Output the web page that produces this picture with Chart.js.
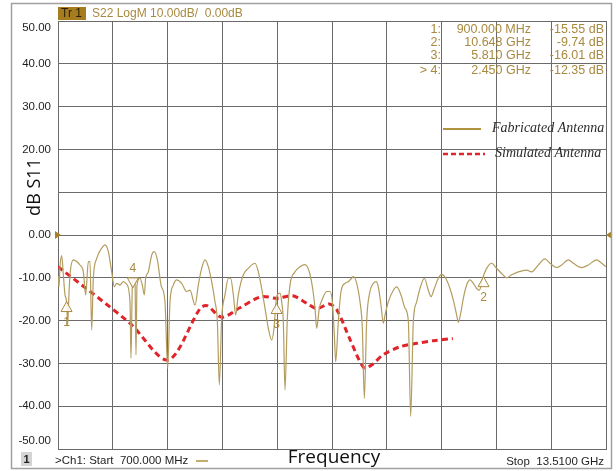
<!DOCTYPE html>
<html>
<head>
<meta charset="utf-8">
<script src="https://cdn.jsdelivr.net/npm/chart.js@4.4.1/dist/chart.umd.min.js"></script>
<style>
  html, body { margin: 0; padding: 0; background: #fff; }
  canvas { display: block; }
</style>
</head>
<body>
<canvas id="s11Chart" width="616" height="471"></canvas>
<script>
// measured trace (GHz, dB)
const fabFreq = [
  0.700, 0.708, 0.723, 0.747, 0.786, 0.825, 0.864, 0.900, 0.926, 0.949, 0.981,
  1.058, 1.136, 1.214, 1.292, 1.347, 1.409, 1.448, 1.487, 1.526, 1.604,
  1.721, 1.799, 1.877, 1.955, 2.017, 2.071, 2.149, 2.227, 2.305, 2.383,
  2.406, 2.438, 2.469, 2.500, 2.523, 2.547, 2.617, 2.671, 2.718, 2.749,
  2.812, 2.890, 2.952, 3.030, 3.108, 3.201, 3.264, 3.318, 3.396, 3.474,
  3.591, 3.708, 3.786, 3.903, 3.980, 4.058, 4.136, 4.214, 4.292, 4.370,
  4.425, 4.471, 4.526, 4.604, 4.682, 4.736, 4.799, 4.853, 4.915, 5.032,
  5.149, 5.305, 5.383, 5.461, 5.539, 5.617, 5.695, 5.749, 5.796, 5.827,
  5.889, 5.928, 5.967, 6.006, 6.061, 6.123, 6.240, 6.357, 6.474, 6.575,
  6.653, 6.708, 6.747, 6.809, 6.887, 6.980, 7.058, 7.113, 7.160, 7.191,
  7.253, 7.315, 7.409, 7.487, 7.565, 7.604, 7.682, 7.760, 7.814, 7.861,
  7.915, 7.993, 8.071, 8.134, 8.188, 8.250, 8.305, 8.344, 8.422, 8.539,
  8.617, 8.718, 8.812, 8.890, 8.944, 9.006, 9.084, 9.162, 9.264, 9.357,
  9.419, 9.497, 9.591, 9.669, 9.762, 9.863, 9.941, 10.019, 10.058, 10.121,
  10.175, 10.253, 10.331, 10.409, 10.487, 10.549, 10.627, 10.721, 10.838, 10.954,
  11.071, 11.188, 11.305, 11.461, 11.656, 11.772, 11.928, 12.084, 12.201, 12.357,
  12.474, 12.630, 12.746, 12.941, 13.097, 13.292, 13.409, 13.510
]
const fabDb = [
  -9.5, -10.1, -12.1, -7.4, -4.8, -9.3, -14.0, -15.6, -21.0, -15.6, -9.3,
  -5.8, -6.2, -7.0, -8.6, -14.0, -6.2, -6.2, -22.2, -10.1, -5.5,
  -3.1, -2.3, -3.9, -8.6, -12.1, -11.3, -11.7, -10.9, -11.5, -15.6,
  -28.8, -11.7, -10.1, -10.9, -28.0, -11.7, -10.1, -11.7, -14.0, -10.1,
  -8.6, -4.7, -3.9, -6.2, -11.7, -15.6, -31.2, -15.6, -11.7, -10.5,
  -11.3, -13.2, -12.9, -16.4, -11.7, -7.8, -5.8, -7.4, -10.9, -15.6,
  -20.2, -35.0, -19.5, -14.0, -10.1, -10.1, -14.0, -18.7, -14.0, -9.3,
  -7.8, -6.6, -8.6, -12.5, -17.1, -21.8, -24.5, -21.8, -15.6, -14.0,
  -13.6, -15.6, -20.2, -36.2, -19.5, -11.7, -8.6, -7.4, -6.9, -8.6,
  -12.5, -17.1, -21.8, -17.1, -14.8, -13.2, -13.2, -15.6, -23.4, -29.6,
  -20.2, -13.2, -11.3, -10.9, -10.1, -9.7, -11.3, -15.6, -21.8, -38.2,
  -20.2, -13.2, -11.3, -10.9, -12.1, -16.4, -20.6, -18.7, -15.6, -12.9,
  -12.1, -14.0, -17.1, -20.2, -42.4, -20.2, -15.6, -12.5, -10.1, -12.9,
  -14.4, -12.5, -10.1, -9.2, -10.1, -12.5, -15.2, -18.7, -20.4, -17.9,
  -14.8, -11.7, -10.5, -11.3, -12.5, -12.9, -10.1, -7.8, -6.6, -7.8,
  -9.0, -10.0, -9.3, -8.6, -8.2, -8.6, -7.0, -5.6, -6.6, -7.6,
  -7.0, -5.8, -6.6, -7.6, -7.0, -5.8, -6.6, -7.4
]

// simulated curve (GHz, dB)
const simFreq = [0.70, 2.38, 3.27, 4.02, 4.18, 4.53, 4.95, 5.45, 5.82, 6.19, 6.52,
  6.75, 7.04, 7.22, 7.53, 7.85, 8.04, 8.30, 8.70, 9.09, 9.47, 9.93]
const simDb = [-7.4, -20.6, -29.2, -17.2, -16.5, -19.2, -17.0, -14.4, -14.8, -14.2, -16.0,
  -17.2, -16.1, -17.5, -24.5, -31.0, -30.3, -28.0, -26.1, -25.3, -24.7, -24.2]

// markers
const markerNo = ['1', '2', '3', '4']
const markerFreq = [0.9, 10.648, 5.81, 2.45]
const markerDb = [-15.55, -9.74, -16.01, -12.35]
const markerFreqText = ['900.000 MHz', '10.648 GHz', '5.810 GHz', '2.450 GHz']
const markerDbText = ['-15.55 dB', '-9.74 dB', '-16.01 dB', '-12.35 dB']
const activeMarker = '4'

// axes
const xStart = 0.7
const xStop = 13.51
const xGridLines = [0.7, 1.981, 3.262, 4.543, 5.824, 7.105, 8.386, 9.667, 10.948, 12.229, 13.51]
const yTicks = [50, 40, 30, 20, 10, 0, -10, -20, -30, -40, -50]
const yTickLabels = ['50.00', '40.00', '30.00', '20.00', '', '0.00', '-10.00', '-20.00', '-30.00', '-40.00', '-50.00']

const GOLD = '#a8893f'
const TRACE = '#b39c5e'
const SANS = '"Liberation Sans", Arial, sans-serif'

const toPoints = (xs, ys) => xs.map((x, i) => ({ x: x, y: ys[i] }))

const overlay = {
  id: 'overlay',
  afterDatasetsDraw(chart) {
    const ctx = chart.ctx
    const xs = chart.scales.x
    const ys = chart.scales.y
    ctx.save()
    ctx.strokeStyle = GOLD
    ctx.lineWidth = 1
    ctx.font = '12px ' + SANS
    ctx.textAlign = 'center'
    ctx.textBaseline = 'middle'
    markerNo.forEach((n, i) => {
      const px = xs.getPixelForValue(markerFreq[i])
      const py = ys.getPixelForValue(markerDb[i])
      const dir = n === activeMarker ? -1 : 1
      ctx.beginPath()
      ctx.moveTo(px, py)
      ctx.lineTo(px - 5.5, py + dir * 10)
      ctx.lineTo(px + 5.5, py + dir * 10)
      ctx.closePath()
      ctx.fillStyle = 'rgba(255,255,255,0.85)'
      ctx.fill()
      ctx.stroke()
      ctx.fillStyle = GOLD
      ctx.fillText(n, px, n === activeMarker ? py - 19 : py + 21)
    })

    // reference level arrows at 0 dB
    const y0 = ys.getPixelForValue(0)
    ctx.fillStyle = '#a9801f'
    ctx.beginPath()
    ctx.moveTo(chart.chartArea.left - 3, y0 - 4)
    ctx.lineTo(chart.chartArea.left + 3, y0)
    ctx.lineTo(chart.chartArea.left - 3, y0 + 4)
    ctx.fill()
    ctx.beginPath()
    ctx.moveTo(chart.chartArea.right + 6, y0 - 4)
    ctx.lineTo(chart.chartArea.right, y0)
    ctx.lineTo(chart.chartArea.right + 6, y0 + 4)
    ctx.fill()
    ctx.restore()
  },
  afterDraw(chart) {
    const ctx = chart.ctx
    const area = chart.chartArea
    const ys = chart.scales.y
    ctx.save()

    // outer frame
    ctx.strokeStyle = '#a0a0a0'
    ctx.lineWidth = 1.5
    ctx.strokeRect(11.5, 3.5, 600, 465)

    // y tick labels
    ctx.fillStyle = '#1e1e1e'
    ctx.font = '11.5px ' + SANS
    ctx.textAlign = 'right'
    ctx.textBaseline = 'middle'
    yTicks.forEach((v, i) => {
      let py = ys.getPixelForValue(v)
      py = Math.min(Math.max(py, area.top + 7), area.bottom - 8)
      ctx.fillText(yTickLabels[i], 51, py)
    })

    // y axis title
    ctx.save()
    ctx.translate(35, 187)
    ctx.rotate(-Math.PI / 2)
    ctx.textAlign = 'center'
    ctx.font = '18px "Open Sans", sans-serif'
    ctx.fillStyle = '#111'
    ctx.fillText('dB S11', 0, 0)
    ctx.restore()

    // header
    ctx.fillStyle = '#a57c1e'
    ctx.fillRect(58, 7, 28, 13)
    ctx.fillStyle = '#2a2108'
    ctx.font = '12px ' + SANS
    ctx.textAlign = 'left'
    ctx.fillText('Tr 1', 61, 14)
    ctx.fillStyle = GOLD
    ctx.fillText('S22 LogM 10.00dB/  0.00dB', 92, 14)

    // marker table
    ctx.font = '12.5px ' + SANS
    const rowY = [30, 43, 56, 71]
    markerNo.forEach((n, i) => {
      ctx.textAlign = 'right'
      ctx.fillText((n === activeMarker ? '> ' : '') + n + ':', 441, rowY[i])
      ctx.fillText(markerFreqText[i], 531, rowY[i])
      ctx.fillText(markerDbText[i], 604, rowY[i])
    })

    // legend
    ctx.strokeStyle = '#b0923f'
    ctx.lineWidth = 2
    ctx.beginPath()
    ctx.moveTo(443, 129)
    ctx.lineTo(481, 129)
    ctx.stroke()
    ctx.strokeStyle = '#e0242a'
    ctx.lineWidth = 2.5
    ctx.setLineDash([5, 3])
    ctx.beginPath()
    ctx.moveTo(443, 154)
    ctx.lineTo(485, 154)
    ctx.stroke()
    ctx.setLineDash([])
    ctx.fillStyle = '#2b2b2b'
    ctx.font = 'italic 14px "Liberation Serif", serif'
    ctx.textAlign = 'left'
    ctx.fillText('Fabricated Antenna', 492, 128)
    ctx.fillText('Simulated Antenna', 495, 153)

    // footer
    ctx.fillStyle = '#d4d4d4'
    ctx.fillRect(21, 452, 11, 14)
    ctx.fillStyle = '#1e1e1e'
    ctx.font = 'bold 11px ' + SANS
    ctx.textAlign = 'center'
    ctx.fillText('1', 26.5, 459.5)
    ctx.font = '11.5px ' + SANS
    ctx.textAlign = 'left'
    ctx.fillText('>Ch1: Start  700.000 MHz', 55, 461)
    ctx.strokeStyle = '#b0923f'
    ctx.lineWidth = 1.5
    ctx.beginPath()
    ctx.moveTo(196, 461)
    ctx.lineTo(208, 461)
    ctx.stroke()
    ctx.textAlign = 'right'
    ctx.fillText('Stop  13.5100 GHz', 604, 462)
    ctx.textAlign = 'center'
    ctx.font = '19px "Open Sans", sans-serif'
    ctx.fillStyle = '#111'
    ctx.fillText('Frequency', 334, 458)
    ctx.restore()
  }
}

new Chart(document.getElementById('s11Chart'), {
  type: 'line',
  data: {
    datasets: [
      {
        label: 'Fabricated Antenna',
        data: toPoints(fabFreq, fabDb),
        borderColor: TRACE,
        borderWidth: 1.2,
        pointRadius: 0,
        cubicInterpolationMode: 'monotone',
      },
      {
        label: 'Simulated Antenna',
        data: toPoints(simFreq, simDb),
        borderColor: '#e0242a',
        borderWidth: 3,
        borderDash: [6, 4],
        pointRadius: 0,
        tension: 0.3,
      },
    ],
  },
  plugins: [overlay],
  options: {
    responsive: false,
    animation: false,
    layout: { padding: { top: 21, right: 10, left: 0, bottom: 0 } },
    plugins: { legend: { display: false }, tooltip: { enabled: false } },
    scales: {
      x: {
        type: 'linear',
        min: xStart,
        max: xStop,
        afterBuildTicks: (scale) => { scale.ticks = xGridLines.map(v => ({ value: v })) },
        afterFit: (scale) => { scale.height = 22 },
        ticks: { display: false },
        grid: { color: '#6a6a6a', lineWidth: 1, drawTicks: false },
        border: { color: '#6a6a6a' },
      },
      y: {
        min: -50,
        max: 50,
        afterBuildTicks: (scale) => { scale.ticks = yTicks.map(v => ({ value: v })) },
        afterFit: (scale) => { scale.width = 58 },
        ticks: { display: false },
        grid: { color: '#6a6a6a', lineWidth: 1, drawTicks: false },
        border: { color: '#6a6a6a' },
      },
    },
  },
})
</script>
</body>
</html>
